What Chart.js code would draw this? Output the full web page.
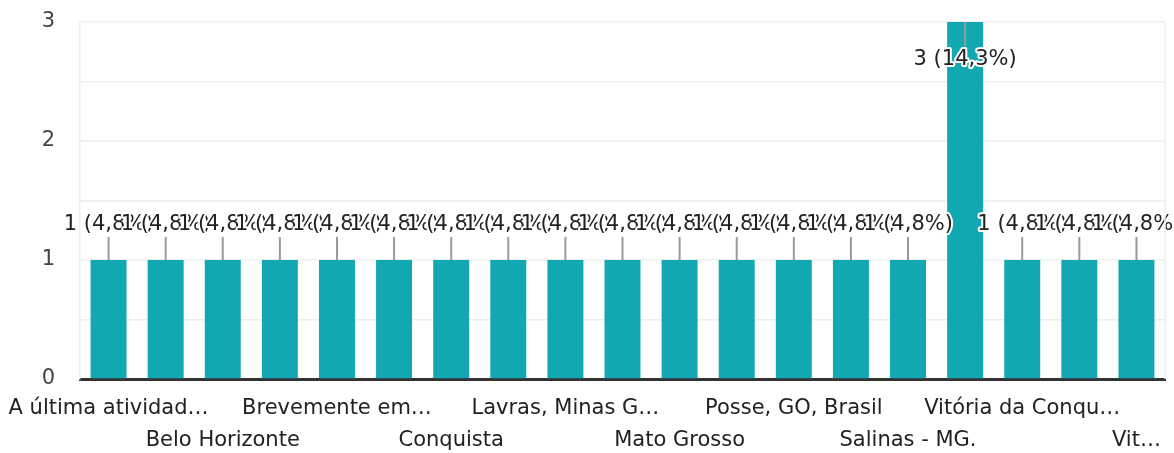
<!DOCTYPE html>
<html>
<head>
<meta charset="utf-8">
<script src="https://cdn.jsdelivr.net/npm/chart.js@4.4.1/dist/chart.umd.min.js"></script>
<style>
  html, body { margin: 0; padding: 0; background: #fff; }
  #wrap { width: 1174px; height: 453px; position: relative; }
</style>
</head>
<body>
<div id="wrap"><canvas id="myChart"></canvas></div>
<script>
// answers (sorted), labels as they show on the axis
var categories = [
  "A última atividad…", "Aracaju", "Belo Horizonte", "Brasília",
  "Brevemente em…", "Campinas", "Conquista", "Goiânia",
  "Lavras, Minas G…", "Lavras - MG", "Mato Grosso", "Montes Claros",
  "Posse, GO, Brasil", "Salinas", "Salinas - MG.", "Vitória da Conquista",
  "Vitória da Conqu…", "Vitória da Conquista, BA", "Vit…"
];
var counts = [1, 1, 1, 1, 1, 1, 1, 1, 1, 1, 1, 1, 1, 1, 1, 3, 1, 1, 1];
var yTicks = [0, 1, 2, 3];

var total = counts.reduce(function(a, b) { return a + b; }, 0);
var FONT = "'DejaVu Sans', 'Liberation Sans', Arial, sans-serif";

// google-forms style annotations: "n (p%)" with a small leader line
var annotations = {
  id: 'annotations',
  afterDatasetsDraw: function(chart) {
    var ctx = chart.ctx;
    var area = chart.chartArea;
    var meta = chart.getDatasetMeta(0);
    var items = [];
    meta.data.forEach(function(bar, i) {
      var v = counts[i];
      var pct = (v / total * 100).toFixed(1).replace('.', ',');
      var y = bar.y - 35, y1 = bar.y, y2 = y + 12;
      if (y < area.top + 15) {
        y = bar.y + 38; y2 = y - 14;
      }
      items.push({ x: bar.x, y: y, y1: y1, y2: y2, text: v + ' (' + pct + '%)' });
    });
    ctx.save();
    ctx.strokeStyle = '#999999';
    ctx.lineWidth = 2;
    items.forEach(function(it) {
      ctx.beginPath();
      ctx.moveTo(it.x, it.y1);
      ctx.lineTo(it.x, it.y2);
      ctx.stroke();
    });
    ctx.font = '21px ' + FONT;
    ctx.textAlign = 'center';
    ctx.textBaseline = 'middle';
    ctx.lineJoin = 'round';
    items.forEach(function(it) {
      ctx.strokeStyle = '#ffffff';
      ctx.lineWidth = 4;
      ctx.strokeText(it.text, it.x, it.y);
      ctx.fillStyle = '#222222';
      ctx.fillText(it.text, it.x, it.y);
    });
    // right edge of the frame
    ctx.strokeStyle = '#eeeeee';
    ctx.lineWidth = 1.5;
    ctx.beginPath();
    ctx.moveTo(area.right, area.top);
    ctx.lineTo(area.right, area.bottom);
    ctx.stroke();
    ctx.restore();
  }
};

new Chart("myChart", {
  type: "bar",
  data: {
    labels: categories,
    datasets: [{
      data: counts,
      backgroundColor: "#12a8b2",
      categoryPercentage: 1,
      barPercentage: 0.63
    }]
  },
  options: {
    responsive: true,
    maintainAspectRatio: false,
    animation: false,
    layout: { padding: { top: 22, right: 9, left: 0, bottom: 0 } },
    plugins: {
      legend: { display: false },
      tooltip: { enabled: false }
    },
    scales: {
      x: {
        afterFit: function(s) { s.height = s.height - 9; },
        grid: { display: false },
        border: { display: true, color: '#333333', width: 3 },
        ticks: {
          autoSkip: false,
          maxRotation: 0,
          minRotation: 0,
          padding: 6,
          color: '#222222',
          font: { family: FONT, size: 21, lineHeight: 1.5 },
          callback: function(val, i) {
            if (i % 2 === 1) return '';
            var lab = categories[i];
            return (i / 2) % 2 === 0 ? lab : ['', lab];
          }
        }
      },
      y: {
        min: 0,
        max: 3,
        afterFit: function(s) { s.width = 80; s.paddingTop = 0; },
        grid: { color: '#eeeeee', lineWidth: 1.5, drawTicks: false },
        border: { display: true, color: '#eeeeee', width: 1.5 },
        ticks: {
          stepSize: 0.5,
          padding: 25,
          color: '#444444',
          font: { family: FONT, size: 21 },
          callback: function(val) {
            return yTicks.indexOf(val) >= 0 ? String(val) : '';
          }
        }
      }
    }
  },
  plugins: [annotations]
});
</script>
</body>
</html>
